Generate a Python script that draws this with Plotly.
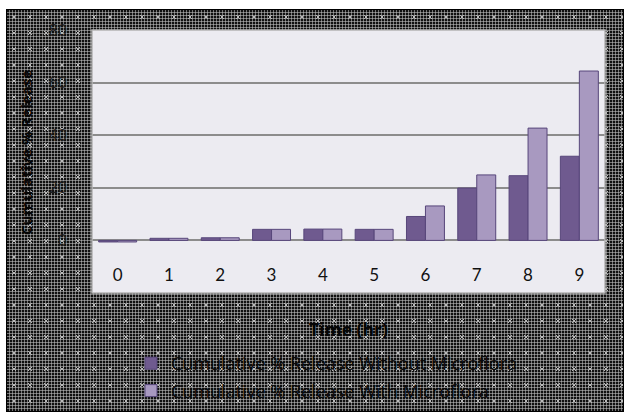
import base64, struct, zlib
import plotly.graph_objects as go

# ---- data ----
times = ["0", "1", "2", "3", "4", "5", "6", "7", "8", "9"]
without_micro = [-0.6, 0.8, 1.0, 4.2, 4.3, 4.2, 9.1, 19.9, 24.6, 32.0]
with_micro = [-0.6, 0.8, 1.0, 4.2, 4.3, 4.2, 13.1, 24.9, 42.7, 64.4]
name_without = "Cumulative % Release Without Microflora"
name_with = "Cumulative % Release With Microflora"
y_ticks = [-20, 0, 20, 40, 60, 80]

# ---- textured background (style only) ----
def make_png(w, h):
    rows = []
    for y in range(h):
        row = bytearray()
        for x in range(w):
            if x == 0 or y == 0 or x == w - 1 or y == h - 1:
                v = 0
            else:
                gx = x % 3 == 0
                gy = y % 3 == 0
                if gx and gy:
                    v = 0xA0
                elif gx or gy:
                    v = 0x74
                else:
                    v = 0x10
                mx, my = x % 16, y % 16
                if (mx == my or mx == 15 - my) and 6 <= mx <= 9 and 6 <= my <= 9:
                    v = 0xB8
            row.append(v)
        rows.append(b"\x00" + bytes(row))
    raw = b"".join(rows)
    def chunk(t, d):
        c = struct.pack(">I", len(d)) + t + d
        return c + struct.pack(">I", zlib.crc32(t + d) & 0xFFFFFFFF)
    png = b"\x89PNG\r\n\x1a\n"
    png += chunk(b"IHDR", struct.pack(">IIBBBBB", w, h, 8, 0, 0, 0, 0))
    png += chunk(b"IDAT", zlib.compress(raw, 9))
    png += chunk(b"IEND", b"")
    return "data:image/png;base64," + base64.b64encode(png).decode()

W, H = 624, 412
L, R, T, B = 92, 19, 30, 119
pw, ph = W - L - R, H - T - B
bx0, by0 = 6, 9
bg = make_png(W - bx0, H - by0)

TICKFONT = "Lato, Open Sans, sans-serif"
FONT = "Open Sans, sans-serif"
dark = "#6f5a8f"
light = "#a899c0"
edge = "#57467a"
plotbg = "#ecebf1"

fig = go.Figure()
fig.add_trace(go.Bar(x=times, y=without_micro, name=name_without,
                     marker=dict(color=dark, line=dict(color=edge, width=1)),
                     legendgroup="a"))
fig.add_trace(go.Bar(x=times, y=with_micro, name=name_with,
                     marker=dict(color=light, line=dict(color=edge, width=1)),
                     legendgroup="b"))

fig.update_layout(
    width=W, height=H,
    margin=dict(l=L, r=R, t=T, b=B, autoexpand=False),
    paper_bgcolor="white",
    plot_bgcolor=plotbg,
    barmode="group",
    bargap=0.26,
    bargroupgap=0.0,
    font=dict(family=FONT, color="#111"),
    showlegend=True,
    legend=dict(x=(131 - L) / pw, y=(293 - 345) / ph, xanchor="left", yanchor="top",
                font=dict(size=18, color="#0a0a0a", family=FONT),
                bgcolor="rgba(0,0,0,0)", traceorder="grouped", tracegroupgap=1,
                itemwidth=30),
    images=[dict(source=bg, xref="paper", yref="paper",
                 x=(bx0 - L) / pw, y=(H - B - by0) / ph,
                 sizex=(W - bx0) / pw, sizey=(H - by0) / ph,
                 xanchor="left", yanchor="top", sizing="stretch", layer="below")],
    xaxis=dict(
        type="category",
        showgrid=False, showline=False, zeroline=False,
        ticks="", ticklabelposition="inside", ticklabelstandoff=6,
        tickfont=dict(size=17, color="#111", family=TICKFONT),
        title=dict(text="<b>Time (hr)</b>", font=dict(size=17.5, color="#050505", family=FONT),
                   standoff=40),
    ),
    yaxis=dict(
        range=[-20, 80], tickvals=y_ticks,
        showgrid=True, gridcolor="#8c8c8c", gridwidth=1.5,
        zeroline=True, zerolinecolor="#8c8c8c", zerolinewidth=2,
        showline=False, ticks="", ticklabelstandoff=24,
        tickfont=dict(size=16, color="#1e1e1e", family=FONT),
    ),
    annotations=[dict(text="<b>Cumulative % Release</b>", xref="paper", yref="paper",
                      x=(26 - L) / pw, y=(293 - 153) / ph, textangle=-90,
                      showarrow=False, xanchor="center", yanchor="middle",
                      font=dict(size=15, color="#050505", family=FONT))],
    shapes=[
        dict(type="rect", xref="paper", yref="paper", x0=0, x1=1, y0=0, y1=1,
             fillcolor=plotbg, line=dict(width=0), layer="below"),
        dict(type="rect", xref="paper", yref="paper", x0=0, x1=1, y0=0, y1=1,
             line=dict(color="#b4b4b4", width=1.5), layer="above"),
    ],
)

fig.write_html("out.html")
